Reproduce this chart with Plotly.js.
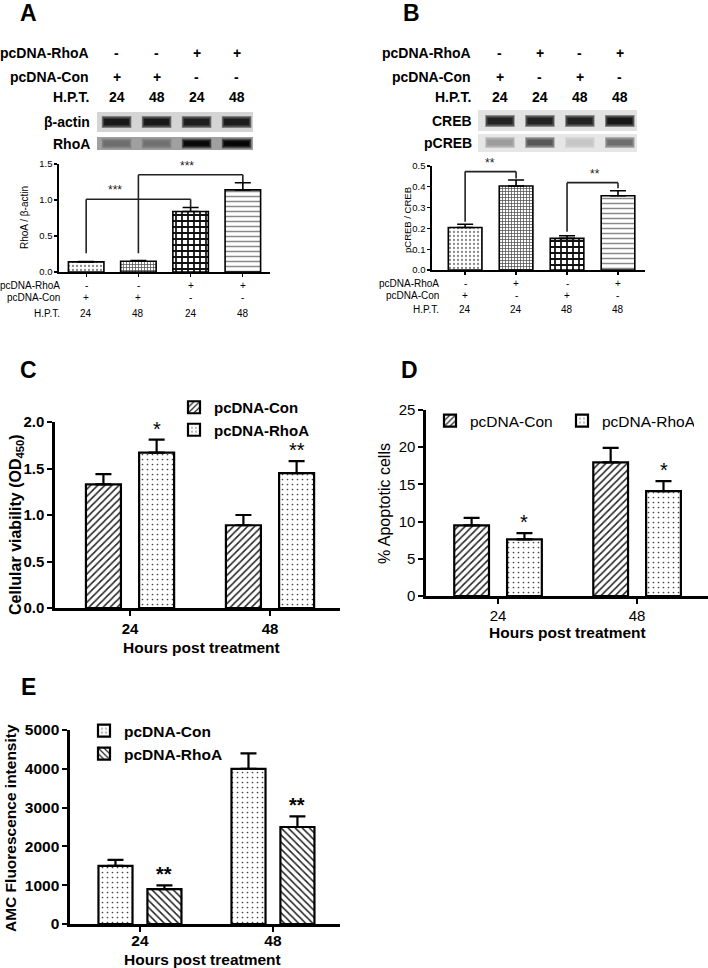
<!DOCTYPE html>
<html><head><meta charset="utf-8">
<script src="https://cdn.plot.ly/plotly-3.0.1.min.js"></script>
<style>html,body{margin:0;padding:0;background:#fff}#chart{width:708px;height:968px}</style>
</head><body><div id="chart"></div>
<script>
// ================= DATA =================
// Panel A
const condA = ['Con 24h','Con 48h','RhoA 24h','RhoA 48h'];
const ratioA = [0.14, 0.15, 0.84, 1.14];
const semA = [0.005, 0.008, 0.055, 0.10];
const rhoaSignA = ['-','-','+','+'];
const conSignA = ['+','+','-','-'];
const hptA = ['24','48','24','48'];
const actinBandA = [0.88, 0.88, 0.86, 0.87];
const rhoaBandA = [0.32, 0.30, 0.95, 0.97];
const bracketFromA = [0, 1];
const bracketToA = [2, 3];
const bracketStartA = [0.26, 0.26];
const bracketTopA = [1.01, 1.35];
const bracketEndA = [0.895, 1.24];
const bracketLabelA = ['***', '***'];
const bracketLabelXA = [0.55, 1.93];

// Panel B
const condB = ['Con 24h','RhoA 24h','Con 48h','RhoA 48h'];
const ratioB = [0.204, 0.404, 0.152, 0.357];
const semB = [0.016, 0.029, 0.013, 0.024];
const rhoaSignB = ['-','+','-','+'];
const conSignB = ['+','-','+','-'];
const hptB = ['24','24','48','48'];
const crebBandB = [0.85, 0.85, 0.85, 0.9];
const pcrebBandB = [0.32, 0.62, 0.14, 0.52];
const bracketFromB = [0, 2];
const bracketToB = [1, 3];
const bracketStartB = [0.232, 0.184];
const bracketTopB = [0.473, 0.42];
const bracketEndB = [0.44, 0.393];
const bracketLabelB = ['**', '**'];
const bracketLabelXB = [0.49, 2.55];

// Panels C, D, E
const hours = ['24', '48'];
const viabCon = [1.33, 0.89];
const viabConSem = [0.11, 0.11];
const viabRhoA = [1.67, 1.45];
const viabRhoASem = [0.14, 0.13];
const viabStars = ['*', '**'];

const apoCon = [9.5, 17.95];
const apoConSem = [1.0, 1.95];
const apoRhoA = [7.6, 14.1];
const apoRhoASem = [0.85, 1.35];
const apoStars = ['*', '*'];

const amcCon = [1500, 4000];
const amcConSem = [155, 395];
const amcRhoA = [900, 2500];
const amcRhoASem = [95, 275];
const amcStars = ['**', '**'];

// ================= LAYOUT HELPERS =================
const W = 708, H = 968;
const fx = p => p / W;
const fy = p => 1 - p / H;
const dx = (a, b) => [fx(a), fx(b)];
const dy = (top, bot) => [fy(bot), fy(top)];
const FONT = 'Liberation Sans, Arial, Helvetica, sans-serif';
const gray = v => { const c = Math.max(0, Math.min(255, Math.round(v))); return `rgb(${c},${c},${c})`; };
const lanes = [0, 1, 2, 3];

const traces = [];
const annotations = [];
const shapes = [];

function ann(o) { annotations.push(Object.assign({showarrow: false, xanchor: 'center', yanchor: 'middle', font: {family: FONT, size: 14, color: '#000'}}, o)); }

// ---------- Panel letters ----------
[['A', 29, 13], ['B', 411, 13], ['C', 29, 370], ['D', 409, 370], ['E', 28, 687]].forEach(([t, x, y]) => {
  ann({xref: 'paper', yref: 'paper', x: fx(x), y: fy(y), text: t, font: {family: FONT, size: 23, weight: 'bold', color: '#000'}});
});

// ---------- Header (A and B) ----------
function header(xref, labelRight, rows, blotNames, blotRows) {
  const rowY = [53, 77, 97];
  const rowNames = ['pcDNA-RhoA', 'pcDNA-Con', 'H.P.T.'];
  rows.forEach((arr, r) => {
    ann({xref: 'paper', yref: 'paper', x: fx(labelRight), y: fy(rowY[r]), xanchor: 'right', text: rowNames[r], font: {family: FONT, size: 14, weight: 'bold', color: '#000'}});
    arr.forEach((t, i) => ann({xref: xref, yref: 'paper', x: lanes[i], y: fy(rowY[r]), text: t, font: {family: FONT, size: 14, weight: 'bold', color: '#000'}}));
  });
  blotNames.forEach((nm, k) => {
    ann({xref: 'paper', yref: 'paper', x: fx(labelRight + 1), y: fy(blotRows[k]), xanchor: 'right', text: nm, font: {family: FONT, size: 14, weight: 'bold', color: '#000'}});
  });
}
header('x2', 91, [rhoaSignA, conSignA, hptA], ['β-actin', 'RhoA'], [122, 144]);
header('x4', 473, [rhoaSignB, conSignB, hptB], ['CREB', 'pCREB'], [121, 143]);

// ---------- Blots ----------
function blot(xa, ya, bgLevel, bgTop, bgBot, bandTop, bandBot, intens) {
  shapes.push({type: 'rect', xref: xa + ' domain', yref: ya, x0: 0, x1: 1, y0: bgTop, y1: bgBot, fillcolor: gray(bgLevel), line: {width: 0}, layer: 'below'});
  // soft halo
  traces.push({type: 'bar', x: lanes, y: lanes.map(() => bandBot - bandTop + 2), base: bandTop - 1, width: 0.74,
    xaxis: xa, yaxis: ya, showlegend: false, hoverinfo: 'skip',
    marker: {color: intens.map(v => gray(bgLevel * (1 - 0.45 * v))), line: {width: 0}}});
  traces.push({type: 'bar', x: lanes, y: lanes.map(() => bandBot - bandTop - 2), base: bandTop + 1, width: 0.66,
    xaxis: xa, yaxis: ya, showlegend: false, hoverinfo: 'skip',
    marker: {color: intens.map(v => gray(bgLevel * (1 - v))), line: {color: intens.map(v => gray(bgLevel * (1 - 0.8 * v))), width: 1.5}}});
}
blot('x2', 'y2', 212, 112, 132, 117, 127, actinBandA);
blot('x2', 'y2', 160, 137, 150, 139.5, 147.5, rhoaBandA);
blot('x4', 'y4', 226, 110, 131, 116, 126, crebBandB);
blot('x4', 'y4', 230, 134, 152, 138, 147, pcrebBandB);

// ---------- Panel A & B bars ----------
const patAB = {shape: ['.', '+', '+', '-'], fgcolor: ['#8a8a8a', '#555', '#111', '#8a8a8a'], bgcolor: 'white', size: [4, 3, 6, 5], solidity: [0.25, 0.45, 0.5, 0.3]};
traces.push({type: 'bar', x: condA, y: ratioA, xaxis: 'x', yaxis: 'y', width: 0.68, showlegend: false,
  marker: {color: 'white', pattern: patAB, line: {color: '#000', width: 1.6}},
  error_y: {type: 'data', array: semA, arrayminus: semA.map(() => 0), symmetric: false, color: '#000', thickness: 1.6, width: 8}});
traces.push({type: 'bar', x: condB, y: ratioB, xaxis: 'x3', yaxis: 'y3', width: 0.66, showlegend: false,
  marker: {color: 'white', pattern: patAB, line: {color: '#000', width: 1.6}},
  error_y: {type: 'data', array: semB, arrayminus: semB.map(() => 0), symmetric: false, color: '#000', thickness: 1.6, width: 8}});

function brackets(xa, ya, from, to, start, top, end, labels, labelX) {
  from.forEach((f, i) => {
    const ln = {color: '#222', width: 1.6};
    shapes.push({type: 'line', xref: xa, yref: ya, x0: f, x1: f, y0: start[i], y1: top[i], line: ln});
    shapes.push({type: 'line', xref: xa, yref: ya, x0: f, x1: to[i], y0: top[i], y1: top[i], line: ln});
    shapes.push({type: 'line', xref: xa, yref: ya, x0: to[i], x1: to[i], y0: top[i], y1: end[i], line: ln});
    ann({xref: xa, yref: ya, x: labelX[i], y: top[i], yanchor: 'bottom', yshift: 0, text: labels[i], font: {family: FONT, size: 12, color: '#222'}});
  });
}
brackets('x', 'y', bracketFromA, bracketToA, bracketStartA, bracketTopA, bracketEndA, bracketLabelA, bracketLabelXA);
brackets('x3', 'y3', bracketFromB, bracketToB, bracketStartB, bracketTopB, bracketEndB, bracketLabelB, bracketLabelXB);

function belowLabels(xa, cats, rows, labelRight, rowY) {
  const rowNames = ['pcDNA-RhoA', 'pcDNA-Con', 'H.P.T.'];
  rows.forEach((arr, r) => {
    ann({xref: 'paper', yref: 'paper', x: fx(labelRight), y: fy(rowY[r]), xanchor: 'right', text: rowNames[r], font: {family: FONT, size: 10, color: '#000'}});
    arr.forEach((t, i) => ann({xref: xa, yref: 'paper', x: cats[i], y: fy(rowY[r]), text: t, font: {family: FONT, size: 10, color: '#000'}}));
  });
}
belowLabels('x', condA, [rhoaSignA, conSignA, hptA], 62, [285, 297, 313]);
belowLabels('x3', condB, [rhoaSignB, conSignB, hptB], 441, [283, 295, 309]);

// ---------- Panels C, D, E ----------
const hatchF = {shape: '/', fgcolor: '#222', bgcolor: 'white', size: 5, solidity: 0.3};
const hatchB = {shape: '\\', fgcolor: '#222', bgcolor: 'white', size: 5, solidity: 0.3};
const dots = {shape: '.', fgcolor: '#444', bgcolor: 'white', size: 5, solidity: 0.09};

function groupBar(xa, ya, name, y, sem, pattern, offC, w, legend, lw) {
  traces.push({type: 'bar', name: name, x: hours, y: y, xaxis: xa, yaxis: ya, width: w, offset: offC - w / 2, legend: legend,
    marker: {color: 'white', pattern: pattern, line: {color: '#000', width: lw}},
    error_y: {type: 'data', array: sem, arrayminus: sem.map(() => 0), symmetric: false, color: '#000', thickness: 2.2, width: 8}});
}
groupBar('x5', 'y5', 'pcDNA-Con', viabCon, viabConSem, hatchF, -0.19, 0.25, 'legend', 2.2);
groupBar('x5', 'y5', 'pcDNA-RhoA', viabRhoA, viabRhoASem, dots, 0.19, 0.25, 'legend', 2.2);
groupBar('x6', 'y6', 'pcDNA-Con', apoCon, apoConSem, hatchF, -0.19, 0.25, 'legend2', 2.2);
groupBar('x6', 'y6', 'pcDNA-RhoA', apoRhoA, apoRhoASem, dots, 0.19, 0.25, 'legend2', 2.2);
groupBar('x7', 'y7', 'pcDNA-Con', amcCon, amcConSem, dots, -0.184, 0.256, 'legend3', 2.2);
groupBar('x7', 'y7', 'pcDNA-RhoA', amcRhoA, amcRhoASem, hatchB, 0.184, 0.256, 'legend3', 2.2);

function stars(xa, ya, y, sem, labels, offC, size, weight) {
  labels.forEach((t, i) => ann({xref: xa, yref: ya, x: i + offC, y: y[i] + sem[i], yanchor: 'bottom', yshift: -2, text: t,
    font: {family: FONT, size: size, weight: weight, color: '#000'}}));
}
stars('x5', 'y5', viabRhoA, viabRhoASem, viabStars, 0.19, 20, 'normal');
stars('x6', 'y6', apoRhoA, apoRhoASem, apoStars, 0.19, 20, 'normal');
stars('x7', 'y7', amcRhoA, amcRhoASem, amcStars, 0.184, 20, 'bold');

// axis titles (as annotations for exact placement)
ann({xref: 'paper', yref: 'paper', x: fx(25), y: fy(218), textangle: -90, text: 'RhoA / β-actin', font: {family: FONT, size: 10, color: '#000'}});
ann({xref: 'paper', yref: 'paper', x: fx(407), y: fy(220), textangle: -90, text: 'pCREB / CREB', font: {family: FONT, size: 9.5, color: '#000'}});
ann({xref: 'paper', yref: 'paper', x: fx(16), y: fy(525), textangle: -90, text: 'Cellular viability (OD<sub>450</sub>)', font: {family: FONT, size: 16, weight: 'bold', color: '#000'}});
ann({xref: 'paper', yref: 'paper', x: fx(385), y: fy(503), textangle: -90, text: '% Apoptotic cells', font: {family: FONT, size: 16, color: '#000'}});
ann({xref: 'paper', yref: 'paper', x: fx(10), y: fy(828), textangle: -90, text: 'AMC Fluorescence intensity', font: {family: FONT, size: 15.5, weight: 'bold', color: '#000'}});
ann({xref: 'paper', yref: 'paper', x: fx(201), y: fy(647), text: 'Hours post treatment', font: {family: FONT, size: 15.5, weight: 'bold', color: '#000'}});
ann({xref: 'paper', yref: 'paper', x: fx(567), y: fy(632), text: 'Hours post treatment', font: {family: FONT, size: 15.5, weight: 'bold', color: '#000'}});
ann({xref: 'paper', yref: 'paper', x: fx(202), y: fy(959), text: 'Hours post treatment', font: {family: FONT, size: 15.5, weight: 'bold', color: '#000'}});

// ---------- Axes ----------
function xAx(domain, anchor, range, lw, tl, tw, showLabels, font, standoff) {
  return {domain: domain, anchor: anchor, type: 'category', range: range, showline: true, linecolor: '#000', linewidth: lw,
    ticks: 'outside', ticklen: tl, tickwidth: tw, tickcolor: '#000', showticklabels: showLabels, tickfont: font,
    ticklabelstandoff: standoff || 0, showgrid: false, zeroline: false, fixedrange: true};
}
function yAx(domain, anchor, range, dtick, fmt, lw, tl, tw, font) {
  return {domain: domain, anchor: anchor, range: range, dtick: dtick, tick0: 0, tickformat: fmt, showline: true, linecolor: '#000', linewidth: lw,
    ticks: 'outside', ticklen: tl, tickwidth: tw, tickcolor: '#000', tickfont: font, showgrid: false, zeroline: false, fixedrange: true};
}
const smallTick = {family: FONT, size: 9.5, color: '#000'};
const boldTick = {family: FONT, size: 15, weight: 'bold', color: '#000'};
const regTick = {family: FONT, size: 15, color: '#000'};
const hidden = (domain, anchor, range) => ({domain: domain, anchor: anchor, range: range, visible: false, fixedrange: true});

const layout = {
  width: W, height: H, margin: {l: 0, r: 0, t: 0, b: 0}, paper_bgcolor: '#fff', plot_bgcolor: 'rgba(0,0,0,0)',
  font: {family: FONT, color: '#000'}, barmode: 'overlay', showlegend: true,
  xaxis: xAx(dx(59, 270), 'y', [-0.52, 3.52], 1.6, 3, 1.3, false, smallTick),
  yaxis: yAx(dy(164, 272), 'x', [0, 1.5], 0.5, '.1f', 1.6, 3, 1.3, smallTick),
  xaxis2: hidden(dx(97, 253), 'y2', [-0.49, 3.41]),
  yaxis2: hidden(dy(105, 160), 'x2', [160, 105]),
  xaxis3: xAx(dx(432, 645), 'y3', [-0.65, 3.53], 1.6, 3, 1.3, false, smallTick),
  yaxis3: yAx(dy(166, 270), 'x3', [0, 0.5], 0.1, '.1f', 1.6, 3, 1.3, smallTick),
  xaxis4: hidden(dx(478, 637), 'y4', [-0.55, 3.43]),
  yaxis4: hidden(dy(105, 160), 'x4', [160, 105]),
  xaxis5: xAx(dx(55, 340), 'y5', [-0.536, 1.5], 2.6, 5, 2, true, boldTick, 0),
  yaxis5: yAx(dy(422, 608), 'x5', [0, 2], 0.5, '.1f', 2.6, 5, 2, boldTick),
  xaxis6: xAx(dx(426, 708), 'y6', [-0.518, 1.51], 2.6, 5, 2, true, regTick, -1),
  yaxis6: yAx(dy(410, 596), 'x6', [0, 25], 5, 'd', 2.6, 5, 2, regTick),
  xaxis7: xAx(dx(70, 340), 'y7', [-0.526, 1.504], 2.6, 5, 2, true, Object.assign({}, boldTick, {size: 15.5}), -4),
  yaxis7: yAx(dy(730, 924), 'x7', [0, 5000], 1000, 'd', 2.6, 5, 2, Object.assign({}, boldTick, {size: 15.5})),
  legend: {x: fx(174), y: fy(391), xanchor: 'left', yanchor: 'top', bgcolor: 'rgba(0,0,0,0)', font: {family: FONT, size: 15, weight: 'bold', color: '#000'}, traceorder: 'normal'},
  legend2: {x: fx(430), y: fy(404), xanchor: 'left', yanchor: 'top', orientation: 'h', entrywidth: 87, entrywidthmode: 'pixels', bgcolor: 'rgba(0,0,0,0)', font: {family: FONT, size: 15.5, color: '#000'}, traceorder: 'normal'},
  legend3: {x: fx(84), y: fy(714), xanchor: 'left', yanchor: 'top', bgcolor: 'rgba(0,0,0,0)', font: {family: FONT, size: 15.5, weight: 'bold', color: '#000'}, traceorder: 'normal'},
  annotations: annotations,
  shapes: shapes
};

Plotly.newPlot('chart', traces, layout, {displayModeBar: false, staticPlot: true});
</script>
</body></html>
